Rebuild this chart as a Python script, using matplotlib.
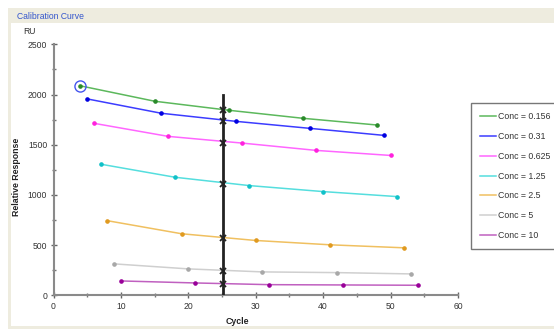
import matplotlib.pyplot as plt
from matplotlib.patches import Rectangle

# data
labels = ["Conc = 0.156", "Conc = 0.31", "Conc = 0.625", "Conc = 1.25",
          "Conc = 2.5", "Conc = 5", "Conc = 10"]
cyc_0156 = [4, 15, 26, 37, 48]
ru_0156 = [2086, 1933, 1843, 1763, 1696]
cyc_031 = [5, 16, 27, 38, 49]
ru_031 = [1956, 1813, 1733, 1663, 1593]
cyc_0625 = [6, 17, 28, 39, 50]
ru_0625 = [1713, 1583, 1516, 1443, 1393]
cyc_125 = [7, 18, 29, 40, 51]
ru_125 = [1306, 1176, 1093, 1033, 983]
cyc_25 = [8, 19, 30, 41, 52]
ru_25 = [743, 613, 546, 503, 473]
cyc_5 = [9, 20, 31, 42, 53]
ru_5 = [313, 263, 233, 226, 213]
cyc_10 = [10, 21, 32, 43, 54]
ru_10 = [143, 123, 106, 103, 100]

# report point (vertical cursor) and the values it reads
cursor_cycle = 25.2
cursor_top = 2000
cursor_ru = [1843, 1736, 1516, 1110, 566, 243, 110]

line_colors = ["#5cb85c", "#3c3cff", "#ff66ff", "#55dede", "#f0c060", "#cfcfcf", "#c060c0"]
dot_colors = ["#2a8a2a", "#0000e0", "#ff22dd", "#10c0c8", "#e09a20", "#a8a8a8", "#990099"]

series = [(cyc_0156, ru_0156), (cyc_031, ru_031), (cyc_0625, ru_0625), (cyc_125, ru_125),
          (cyc_25, ru_25), (cyc_5, ru_5), (cyc_10, ru_10)]

plt.rcParams['font.family'] = ['Liberation Sans', 'DejaVu Sans']

fig = plt.figure(figsize=(5.54, 3.29), dpi=100)

# window frame look
fig.patches.append(Rectangle((8 / 554, 1 - 23 / 329), 1, 15 / 329, transform=fig.transFigure,
                             facecolor="#eeecdf", edgecolor="none", zorder=0))
fig.patches.append(Rectangle((8 / 554, 0), 2.5 / 554, 1 - 23 / 329, transform=fig.transFigure,
                             facecolor="#eeecdf", edgecolor="none", zorder=0))
fig.patches.append(Rectangle((8 / 554, 0), 1, 3 / 329, transform=fig.transFigure,
                             facecolor="#eeecdf", edgecolor="none", zorder=0))
fig.text(17 / 554, 1 - 16.5 / 329, "Calibration Curve", color="#3355cc", fontsize=6.2,
         va="center", ha="left")

ax = fig.add_axes([53.5 / 554, 1 - 295.3 / 329, (458 - 53.5) / 554, (295.3 - 44.3) / 329])
ax.patch.set_alpha(0)

for (cx, cy), lab, lc, dc in zip(series, labels, line_colors, dot_colors):
    ax.plot(cx, cy, color=lc, lw=1.1, label=lab, zorder=2)
    ax.plot(cx, cy, ls="none", marker="o", ms=2.3, color=dc, zorder=3)

# highlighted point
ax.plot(cyc_0156[0], ru_0156[0], marker="o", ms=8, mfc="none", mec="#4455ee", mew=1, zorder=4)

ax.plot([cursor_cycle, cursor_cycle], [0, cursor_top], color="#222222", lw=2, zorder=5)
ax.plot([cursor_cycle] * len(cursor_ru), cursor_ru, ls="none", marker="x", ms=4,
        mew=1.3, color="#222222", zorder=6)

ax.set_xlim(0, 60)
ax.set_ylim(0, 2500)
ax.set_xticks(range(0, 61, 10))
ax.set_xticks(range(5, 60, 10), minor=True)
ax.set_yticks(range(0, 2501, 500))
ax.set_yticks(range(250, 2500, 500), minor=True)
for s in ["top", "right"]:
    ax.spines[s].set_visible(False)
for s in ["left", "bottom"]:
    ax.spines[s].set_color("#8a8a8a")
    ax.spines[s].set_linewidth(1.5)
ax.tick_params(which="major", direction="inout", length=5, width=1, color="#666666",
               labelsize=6.2, labelcolor="#333333", pad=2)
ax.tick_params(which="minor", direction="inout", length=3, width=1, color="#777777")

fig.text(16.5 / 554, 1 - 177 / 329, "Relative Response", rotation=90, fontsize=6.3,
         fontweight="bold", va="center", ha="center", color="#222222")
fig.text(237 / 554, 1 - 322 / 329, "Cycle", fontsize=6.3, fontweight="bold",
         va="center", ha="center", color="#222222")
fig.text(23 / 554, 1 - 31 / 329, "RU", fontsize=6.2, va="center", ha="left", color="#333333")

leg = ax.legend(loc="upper left", bbox_to_anchor=(471 / 554, 1 - 103 / 329),
                bbox_transform=fig.transFigure, fontsize=6.3, frameon=True, fancybox=False,
                handlelength=1.8, handletextpad=0.3, labelspacing=1.25, borderpad=1.0,
                borderaxespad=0)
leg.get_frame().set_edgecolor("#555555")
leg.get_frame().set_linewidth(1.0)
for t in leg.get_texts():
    t.set_color("#333333")

fig.savefig("out.png", dpi=100)
